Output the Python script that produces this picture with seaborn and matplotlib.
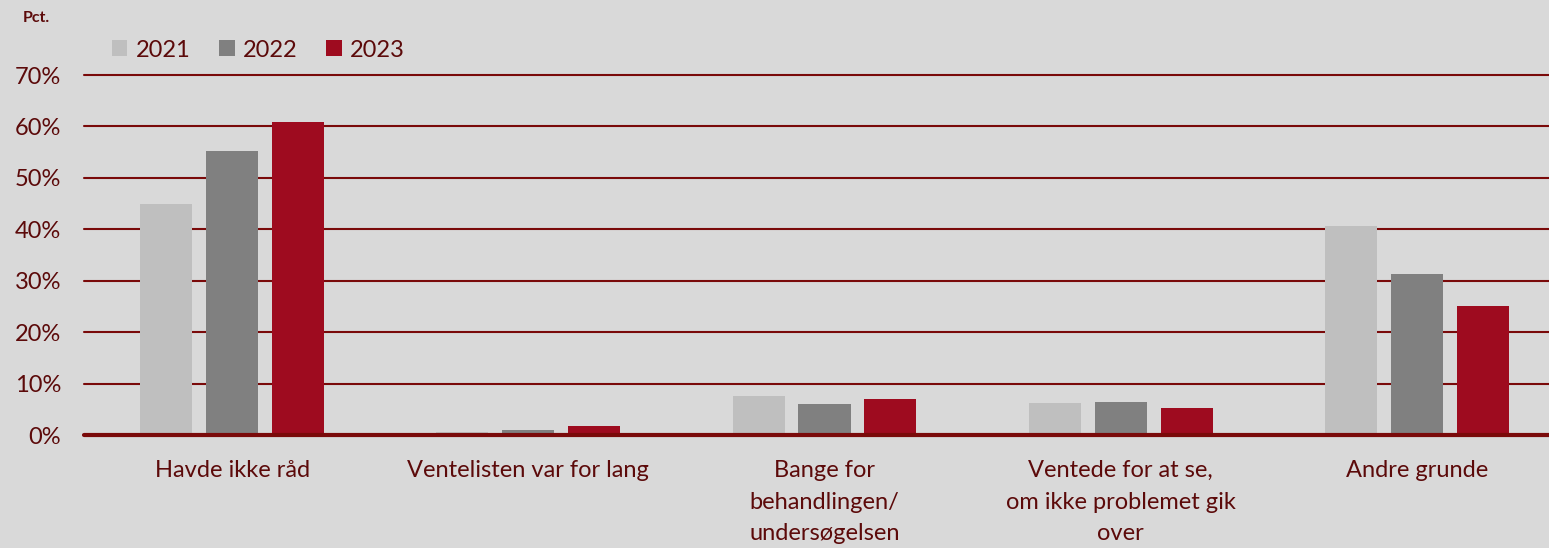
import pandas as pd
import matplotlib.pyplot as plt
import seaborn as sns

categories = ["Havde ikke råd", "Ventelisten var for lang",
              "Bange for\nbehandlingen/\nundersøgelsen",
              "Ventede for at se,\nom ikke problemet gik\nover",
              "Andre grunde"]
years = ["2021", "2022", "2023"]
v2021 = [45.0, 0.5, 7.6, 6.2, 40.7]
v2022 = [55.3, 1.0, 6.0, 6.5, 31.3]
v2023 = [60.8, 1.8, 7.0, 5.3, 25.1]

colors = ["#bfbfbf", "#808080", "#9e0b1f"]
text_col = "#5c0a0a"
line_col = "#7a0a0a"
bg = "#d9d9d9"

df = pd.DataFrame({
    "Kategori": categories * 3,
    "År": [y for y in years for _ in categories],
    "Pct": v2021 + v2022 + v2023,
})

sns.set_style("white")
plt.rcParams['font.family'] = ['Lato', 'DejaVu Sans']

fig = plt.figure(figsize=(15.49, 5.48), dpi=100, facecolor=bg)
# the plot area runs a little past the right edge of the figure
ax = fig.add_axes([84 / 1549, 1 - 435 / 548, 1481 / 1549, 360 / 548])
ax.set_facecolor(bg)

sns.barplot(data=df, x="Kategori", y="Pct", hue="År", palette=colors,
            width=0.667, gap=0.21, ax=ax, legend=True, saturation=1,
            linewidth=0, edgecolor="none")

ax.set_ylim(0, 70)
ax.set_xlim(-0.5, 4.5)
ax.set_yticks(range(0, 71, 10))
ax.set_yticklabels([f"{t}%" for t in range(0, 71, 10)], fontsize=17, color=text_col)
for t in range(10, 71, 10):
    ax.axhline(t, color=line_col, lw=1.5, zorder=0, clip_on=False)
ax.axhline(0, color=line_col, lw=3, zorder=3, clip_on=False)
ax.tick_params(axis="y", length=0, pad=16.5)
ax.tick_params(axis="x", length=0, pad=18)
ax.set_xticks(range(len(categories)))
ax.set_xticklabels(categories, fontsize=17, color=text_col, linespacing=1.62, va="top")
ax.set_xlabel("")
ax.set_ylabel("")
for s in ax.spines.values():
    s.set_visible(False)

handles, labels = ax.get_legend_handles_labels()
ax.legend(handles, labels, loc="lower left", bbox_to_anchor=(0.0126, 1.014), ncol=3,
          frameon=False, fontsize=17, handlelength=0.65, handleheight=0.65,
          handletextpad=0.35, columnspacing=1.22, labelcolor=text_col,
          borderaxespad=0)

fig.text(23 / 1549, 1 - 18 / 548, "Pct.", fontsize=11.5, fontweight="bold",
         color=text_col, va="center")

fig.savefig("out.png", dpi=100, facecolor=bg)
